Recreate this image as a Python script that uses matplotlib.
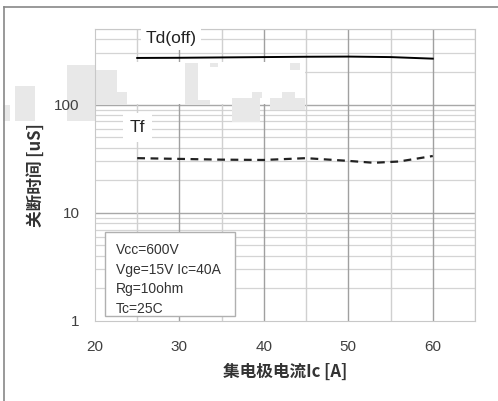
import numpy as np
import matplotlib.pyplot as plt
from matplotlib.ticker import FixedLocator
from matplotlib.patches import Rectangle
from matplotlib.lines import Line2D

plt.rcParams['font.family'] = ['Liberation Sans', 'Noto Sans CJK SC', 'DejaVu Sans']

# data
ic = [25, 30, 35, 40, 45, 50, 55, 60]
td_off = [270, 271, 273, 275, 277, 278, 275, 266]
ic_tf = [25, 30, 35, 40, 45, 50, 53, 56, 60]
tf = [32.0, 31.5, 31.0, 30.8, 32.0, 30.2, 29.0, 29.8, 33.5]
notes = ["Vcc=600V", "Vge=15V Ic=40A", "Rg=10ohm", "Tc=25C"]

W, H = 498, 401
fig = plt.figure(figsize=(W/100, H/100), dpi=100)
ax = fig.add_axes([95/W, 1-321/H, 380/W, 292/H])

ax.set_yscale('log')
ax.set_xlim(20, 65)
ax.set_ylim(1, 500)

# grid
minor_y = [m * 10**e for e in range(0, 3) for m in range(2, 10) if m * 10**e <= 500]
for y in minor_y:
    ax.axhline(y, color='#d4d4d4', lw=0.9, zorder=0)
for y in [10, 100]:
    ax.axhline(y, color='#a8a8a8', lw=1.0, zorder=0)
for x in range(25, 66, 5):
    c = '#a0a0a0' if x % 10 == 0 else '#d0d0d0'
    ax.axvline(x, color=c, lw=1.0, zorder=0)

# washed-out band in the scan (pixel boxes: x0, y0, x1, y1)
def pix_rect(x0, y0, x1, y1, color, z):
    r = Rectangle((x0/W, 1-y1/H), (x1-x0)/W, (y1-y0)/H, transform=fig.transFigure,
                  facecolor=color, edgecolor='none', zorder=z, clip_on=False)
    ax.add_artist(r)

pix_rect(96, 62, 305, 104, 'white', 0.5)
blots = [(15, 86, 35, 121), (3, 105, 10, 121), (67, 65, 95, 121),
         (95, 70, 117, 92), (95, 92, 127, 105), (185, 63, 198, 100),
         (185, 100, 210, 105), (232, 98, 260, 122), (252, 92, 262, 98),
         (270, 98, 305, 110), (282, 92, 295, 98), (290, 63, 300, 70),
         (210, 63, 218, 67)]
for b in blots:
    pix_rect(*b, '#e8e8e8', 0.7)

ax.plot(ic, td_off, color='black', lw=1.4, zorder=3)
ax.plot(ic_tf, tf, color='#222222', lw=1.6, ls=(0, (3.5, 2.5)), zorder=3)

ax.xaxis.set_major_locator(FixedLocator([20, 30, 40, 50, 60]))
ax.yaxis.set_major_locator(FixedLocator([1, 10, 100]))
ax.yaxis.set_minor_locator(FixedLocator([]))
ax.set_yticklabels(['1', '10', '100'])
ax.tick_params(length=0, labelsize=11, colors='#404040', pad=14)
ax.tick_params(axis='y', pad=11)
for s in ax.spines.values():
    s.set_color('#c8c8c8')

ax.set_xlabel('集电极电流Ic [A]', fontsize=12, fontweight='bold', color='#333333',
              family=['Noto Sans CJK SC', 'DejaVu Sans'], labelpad=6)
ax.set_ylabel('关断时间 [uS]', fontsize=12, fontweight='bold', color='#333333',
              family=['Noto Sans CJK SC', 'DejaVu Sans'], labelpad=7)

# series labels
ax.text(29.0, 408, 'Td(off)', fontsize=12.5, color='#222222', ha='center', va='center',
        bbox=dict(facecolor='white', edgecolor='none', pad=3), zorder=4)
ax.text(25.0, 62, 'Tf', fontsize=12.5, color='#222222', ha='center', va='center',
        bbox=dict(facecolor='white', edgecolor='none', pad=5), zorder=4)

# conditions box
box = Rectangle((105/W, 1-316/H), 130/W, 84/H, transform=fig.transFigure,
                facecolor='white', edgecolor='#b0b0b0', lw=1.0, zorder=5)
fig.add_artist(box)
for i, t in enumerate(notes):
    fig.text(116/W, 1-(250 + i*19.7)/H, t, fontsize=10, color='#333333',
             va='center', ha='left', zorder=6)

# outer frame (top and left)
fig.add_artist(Line2D([4/W, 1], [1-7/H, 1-7/H], color='#888888', lw=1.2))
fig.add_artist(Line2D([4/W, 4/W], [0, 1-7/H], color='#888888', lw=1.2))

fig.savefig('out.png', dpi=100)
